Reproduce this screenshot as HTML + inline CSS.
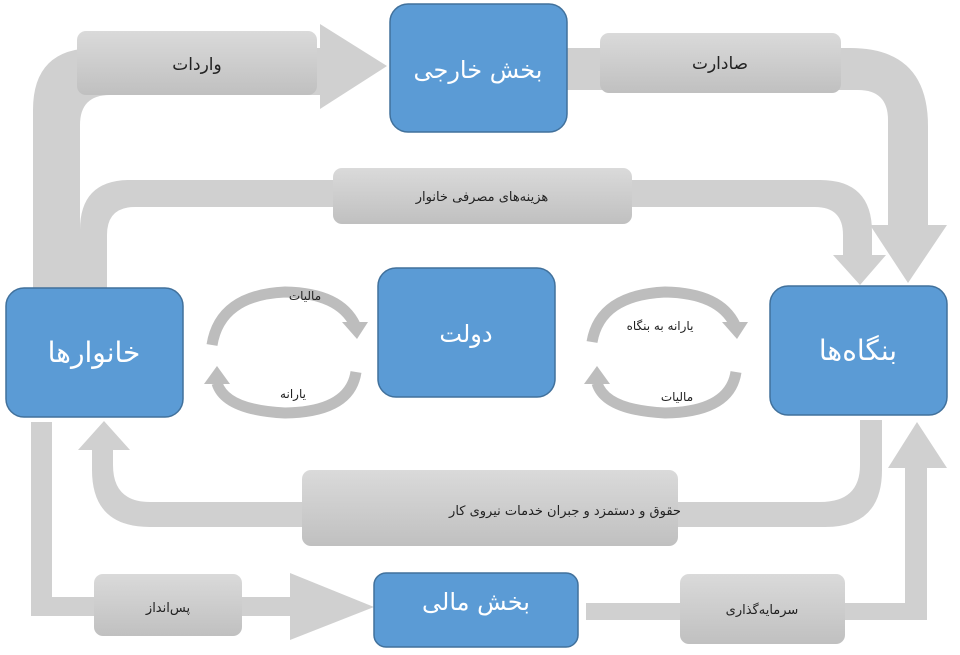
<!DOCTYPE html>
<html><head><meta charset="utf-8"><style>
html,body{margin:0;padding:0;background:#fff;}
svg{display:block;}
text{font-family:"DejaVu Sans","Liberation Sans",sans-serif;direction:rtl;}
</style></head><body>
<svg width="960" height="655" viewBox="0 0 960 655" xmlns="http://www.w3.org/2000/svg">
<defs>
<linearGradient id="lb" x1="0" y1="0" x2="0" y2="1"><stop offset="0" stop-color="#dadada"/><stop offset="1" stop-color="#c0c0c0"/></linearGradient>
</defs>
<g fill="#d0d0d0">
<path d="M33,288 L33,110 Q33,48 95,48 L320,48 L320,24 L387,66 L320,109 L320,95 L110,95 Q80,95 80,125 L80,288 Z"/>
<path d="M567,48 L850,48 Q928,48 928,126 L928,225 L947,225 L908,283 L870,225 L888,225 L888,120 Q888,90 858,90 L567,90 Z"/>
<path d="M80,288 L80,230 Q80,180 130,180 L820,180 Q872,180 872,232 L872,255 L886,255 L860,285 L833,255 L843,255 L843,235 Q843,207 815,207 L135,207 Q107,207 107,235 L107,288 Z"/>
<path d="M860,420 L882,420 L882,470 Q882,527 825,527 L150,527 Q92,527 92,470 L92,450 L78,450 L104,421 L130,450 L113,450 L113,465 Q113,502 150,502 L820,502 Q860,502 860,465 Z"/>
<path d="M31,422 L52,422 L52,597 L290,597 L290,573 L374,607 L290,640 L290,616 L31,616 Z"/>
<path d="M586,603 L905,603 L905,468 L888,468 L917,422 L947,468 L927,468 L927,620 L586,620 Z"/>
</g>
<g fill="url(#lb)">
<rect x="77" y="31" width="240" height="64" rx="9"/>
<rect x="600" y="33" width="241" height="60" rx="9"/>
<rect x="333" y="168" width="299" height="56" rx="9"/>
<rect x="302" y="470" width="376" height="76" rx="9"/>
<rect x="94" y="574" width="148" height="62" rx="9"/>
<rect x="680" y="574" width="165" height="70" rx="9"/>
</g>
<g font-size="17" fill="#222" text-anchor="middle">
<text x="197" y="70">واردات</text>
<text x="720" y="69">صادارت</text>
<text x="482" y="201" font-size="13">هزینه‌های مصرفی خانوار</text>
<text x="565" y="515" font-size="13">حقوق و دستمزد و جبران خدمات نیروی کار</text>
<text x="168" y="612" font-size="13">پس‌انداز</text>
<text x="762" y="614" font-size="13">سرمایه‌گذاری</text>
</g>
<g fill="none" stroke="#bdbdbd" stroke-width="11">
<path d="M212,345 Q220,295 285,292 Q340,293 355,325"/>
<path d="M356,372 Q350,412 285,413 Q225,410 217,383"/>
<path d="M592,342 Q600,295 665,292 Q720,293 735,325"/>
<path d="M736,372 Q730,412 665,413 Q605,410 597,383"/>
</g>
<g fill="#bdbdbd">
<path d="M342,322 L368,322 L357,339 Z"/>
<path d="M204,384 L230,384 L217,366 Z"/>
<path d="M722,322 L748,322 L737,339 Z"/>
<path d="M584,384 L610,384 L597,366 Z"/>
</g>
<g font-size="12" fill="#222" text-anchor="middle">
<text x="305" y="300">مالیات</text>
<text x="293" y="398">یارانه</text>
<text x="660" y="330">یارانه به بنگاه</text>
<text x="677" y="401">مالیات</text>
</g>
<g fill="#5b9bd5" stroke="#41719c" stroke-width="1.5">
<rect x="390" y="4" width="177" height="128" rx="18"/>
<rect x="378" y="268" width="177" height="129" rx="18"/>
<rect x="6" y="288" width="177" height="129" rx="18"/>
<rect x="770" y="286" width="177" height="129" rx="18"/>
<rect x="374" y="573" width="204" height="74" rx="12"/>
</g>
<g font-size="24" fill="#fff" text-anchor="middle">
<text x="478" y="78">بخش خارجی</text>
<text x="466" y="342">دولت</text>
<text x="94" y="362" font-size="28">خانوارها</text>
<text x="858" y="360" font-size="28">بنگاه‌ها</text>
<text x="476" y="610">بخش مالی</text>
</g>
</svg>
</body></html>
